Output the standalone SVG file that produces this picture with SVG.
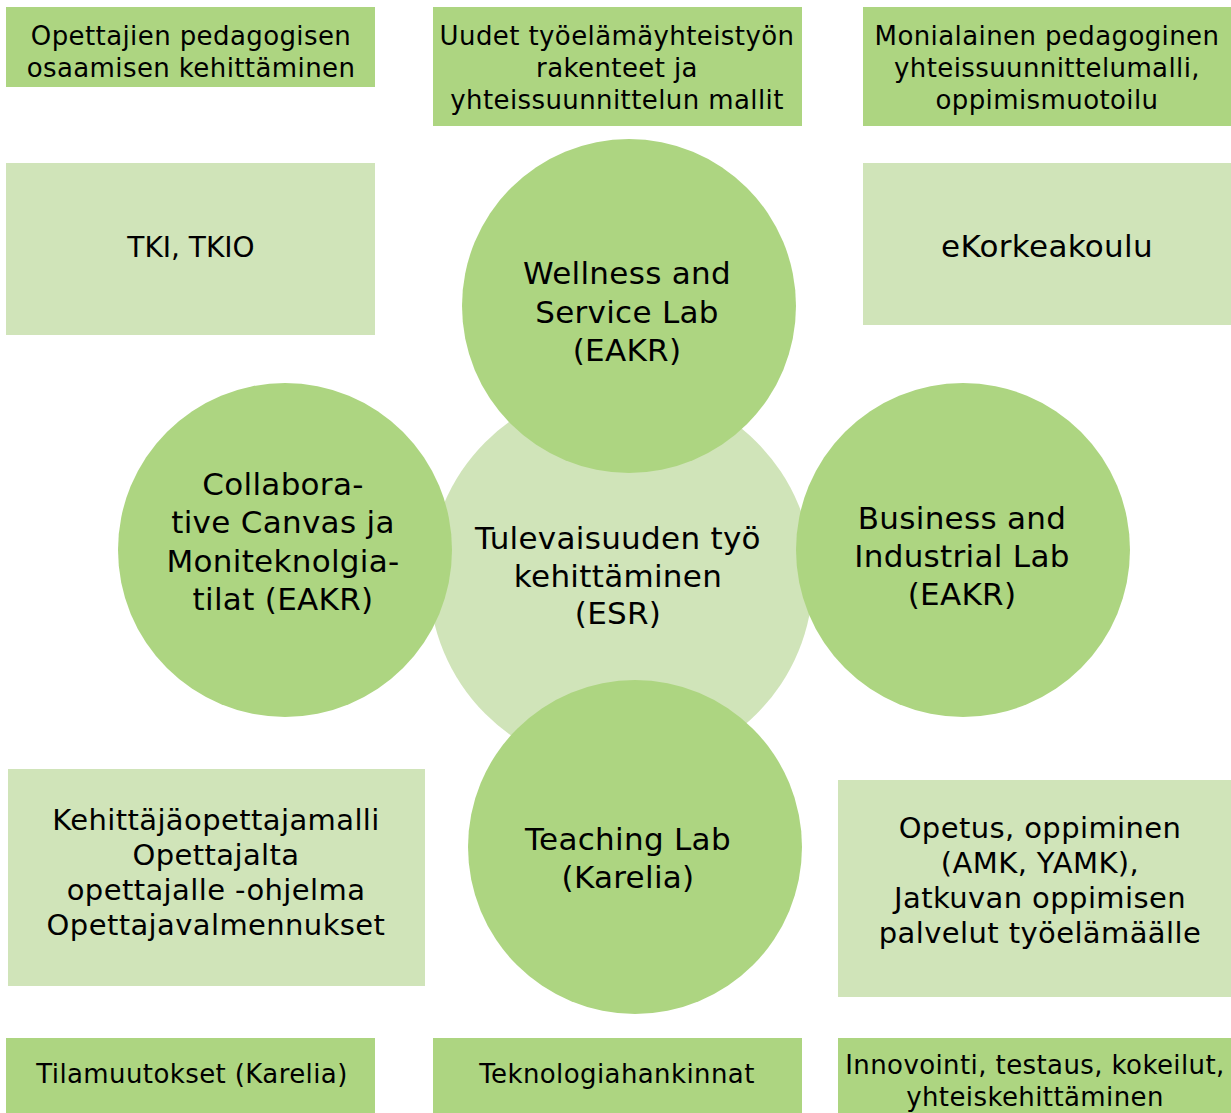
<svg xmlns="http://www.w3.org/2000/svg" width="1231" height="1113" viewBox="0 0 1231 1113">
<style>
.dark{fill:#ADD581}
.light{fill:#D0E4B9}
text{font-family:"DejaVu Sans","Liberation Sans",sans-serif;fill:#000;text-anchor:middle}
.s{font-size:26px;letter-spacing:0.4px}
.m{font-size:29px;letter-spacing:0.4px}
.c{font-size:31px;letter-spacing:0.3px}
.t{font-size:28px}
</style>
<rect width="1231" height="1113" fill="#fff"/>
<g id="box-opettajien">
<rect class="dark" x="6" y="7" width="369" height="80"/>
<text class="s" x="191" y="45">Opettajien pedagogisen</text>
<text class="s" x="191" y="77">osaamisen kehittäminen</text>
</g>
<g id="box-uudet">
<rect class="dark" x="433" y="7" width="369" height="119"/>
<text class="s" x="617" y="45">Uudet työelämäyhteistyön</text>
<text class="s" x="617" y="77">rakenteet ja</text>
<text class="s" x="617" y="109">yhteissuunnittelun mallit</text>
</g>
<g id="box-monialainen">
<rect class="dark" x="863" y="7" width="368" height="119"/>
<text class="s" x="1047" y="45">Monialainen pedagoginen</text>
<text class="s" x="1047" y="77">yhteissuunnittelumalli,</text>
<text class="s" x="1047" y="109">oppimismuotoilu</text>
</g>
<g id="box-tki">
<rect class="light" x="6" y="163" width="369" height="172"/>
<text class="t" x="191" y="257">TKI, TKIO</text>
</g>
<g id="box-ekorkeakoulu">
<rect class="light" x="863" y="163" width="368" height="162"/>
<text class="c" x="1047" y="257">eKorkeakoulu</text>
</g>
<g id="box-kehittaja">
<rect class="light" x="8" y="769" width="417" height="217"/>
<text class="m" x="216" y="830">Kehittäjäopettajamalli</text>
<text class="m" x="216" y="865">Opettajalta</text>
<text class="m" x="216" y="900">opettajalle -ohjelma</text>
<text class="m" x="216" y="935">Opettajavalmennukset</text>
</g>
<g id="box-opetus">
<rect class="light" x="838" y="780" width="393" height="217"/>
<text class="m" x="1040" y="838">Opetus, oppiminen</text>
<text class="m" x="1040" y="873">(AMK, YAMK),</text>
<text class="m" x="1040" y="908">Jatkuvan oppimisen</text>
<text class="m" x="1040" y="943">palvelut työelämäälle</text>
</g>
<g id="box-tilamuutokset">
<rect class="dark" x="6" y="1038" width="369" height="75"/>
<text class="s" x="192" y="1083">Tilamuutokset (Karelia)</text>
</g>
<g id="box-teknologia">
<rect class="dark" x="433" y="1038" width="369" height="75"/>
<text class="s" x="617" y="1083">Teknologiahankinnat</text>
</g>
<g id="box-innovointi">
<rect class="dark" x="838" y="1038" width="393" height="75"/>
<text class="s" x="1035" y="1074">Innovointi, testaus, kokeilut,</text>
<text class="s" x="1035" y="1106">yhteiskehittäminen</text>
</g>
<g id="circle-center">
<circle class="light" cx="621" cy="578" r="192"/>
<text class="c" x="618" y="549">Tulevaisuuden työ</text>
<text class="c" x="618" y="587">kehittäminen</text>
<text class="c" x="618" y="624">(ESR)</text>
</g>
<g id="circle-wellness">
<circle class="dark" cx="629" cy="306" r="167"/>
<text class="c" x="627" y="284">Wellness and</text>
<text class="c" x="627" y="323">Service Lab</text>
<text class="c" x="627" y="361">(EAKR)</text>
</g>
<g id="circle-collaborative">
<circle class="dark" cx="285" cy="550" r="167"/>
<text class="c" x="283" y="495">Collabora-</text>
<text class="c" x="283" y="533">tive Canvas ja</text>
<text class="c" x="283" y="572">Moniteknolgia-</text>
<text class="c" x="283" y="610">tilat (EAKR)</text>
</g>
<g id="circle-business">
<circle class="dark" cx="963" cy="550" r="167"/>
<text class="c" x="962" y="529">Business and</text>
<text class="c" x="962" y="567">Industrial Lab</text>
<text class="c" x="962" y="605">(EAKR)</text>
</g>
<g id="circle-teaching">
<circle class="dark" cx="635" cy="847" r="167"/>
<text class="c" x="628" y="850">Teaching Lab</text>
<text class="c" x="628" y="888">(Karelia)</text>
</g>
<g id="connectors"/>
</svg>
